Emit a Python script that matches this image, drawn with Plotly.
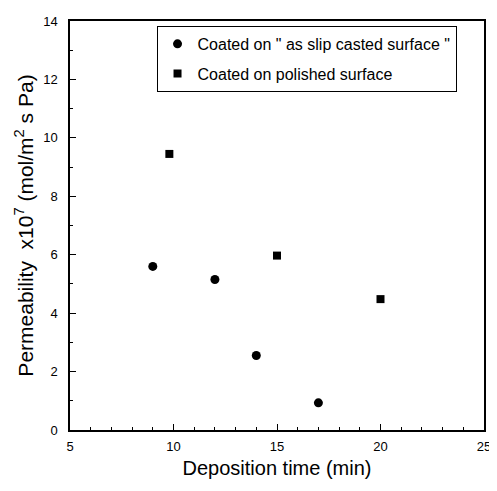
import plotly.graph_objects as go

slip_x = [9, 12, 14, 17]
slip_y = [5.6, 5.15, 2.55, 0.93]
pol_x = [9.8, 15, 20]
pol_y = [9.45, 5.97, 4.48]

x_ticks = [5, 10, 15, 20, 25]
y_ticks = [0, 2, 4, 6, 8, 10, 12, 14]

FONT = "Arial, Liberation Sans, sans-serif"

fig = go.Figure()
fig.add_trace(go.Scatter(x=slip_x, y=slip_y, mode="markers",
                         name='Coated on " as slip casted surface "',
                         legendgroup="a",
                         marker=dict(symbol="circle", size=9, color="black")))
fig.add_trace(go.Scatter(x=pol_x, y=pol_y, mode="markers",
                         name="Coated on polished surface",
                         legendgroup="b",
                         marker=dict(symbol="square", size=8, color="black")))

axis_common = dict(showline=True, linecolor="black", linewidth=1.5, mirror=True,
                   ticks="inside", ticklen=6, tickcolor="black", tickwidth=1.2,
                   showgrid=False, zeroline=False,
                   tickfont=dict(family=FONT, size=13, color="black"),
                   minor=dict(ticks="inside", ticklen=3, tickcolor="black", tickwidth=1))

fig.update_xaxes(range=[5, 25], tickvals=x_ticks,
                 ticklabelstandoff=4,
                 title=dict(text="Deposition time (min)", font=dict(family=FONT, size=20, color="black"), standoff=8),
                 **axis_common)
fig.update_yaxes(range=[0, 14], tickvals=y_ticks,
                 ticklabelstandoff=8,
                 title=dict(text="Permeability  x10<sup>7</sup> (mol/m<sup>2</sup> s Pa)",
                            font=dict(family=FONT, size=21, color="black"), standoff=4),
                 **axis_common)

fig.update_layout(
    width=489, height=483,
    margin=dict(l=62, r=10, t=6, b=61),
    plot_bgcolor="white", paper_bgcolor="white",
    legend=dict(x=0.209, y=0.988, xanchor="left", yanchor="top",
                bordercolor="black", borderwidth=1, bgcolor="white",
                font=dict(family=FONT, size=16, color="black"),
                tracegroupgap=6, traceorder="grouped"),
    showlegend=True,
)

fig.write_html("out.html")
